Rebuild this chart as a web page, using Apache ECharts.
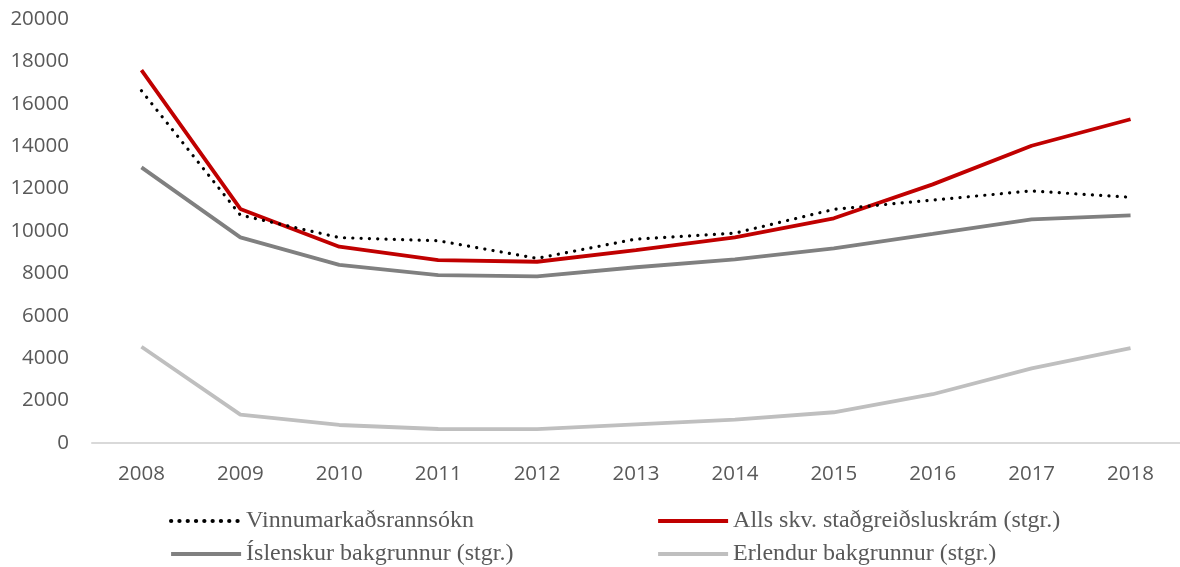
<!DOCTYPE html>
<html>
<head>
<meta charset="utf-8">
<script src="https://cdn.jsdelivr.net/npm/echarts@6/dist/echarts.min.js"></script>
<style>
  html, body { margin: 0; padding: 0; background: #fff; }
  #chart { width: 1180px; height: 567px; }
</style>
</head>
<body>
<div id="chart"></div>
<script>
const years = ["2008", "2009", "2010", "2011", "2012", "2013", "2014", "2015", "2016", "2017", "2018"];
const vinnumarkadur = [16620, 10750, 9690, 9540, 8710, 9620, 9900, 11020, 11460, 11890, 11590];
const alls = [17590, 11040, 9260, 8630, 8550, 9100, 9700, 10600, 12200, 14020, 15270];
const islenskur = [13000, 9700, 8400, 7920, 7860, 8290, 8660, 9180, 9860, 10550, 10740];
const erlendur = [4540, 1340, 850, 660, 650, 880, 1100, 1450, 2300, 3520, 4470];
const yTicks = { min: 0, max: 20000, interval: 2000 };

const chart = echarts.init(document.getElementById("chart"));

const legendText = {
  fontFamily: "Liberation Serif",
  fontSize: 24,
  color: "#595959",
};

function legendAt(name, left, top) {
  return {
    data: [name],
    left: left,
    top: top,
    itemWidth: 70,
    itemHeight: 14,
    itemGap: 0,
    padding: 0,
    itemStyle: { opacity: 0 },
    lineStyle: { width: 4.2 },
    textStyle: legendText,
    selectedMode: false,
  };
}

function lineSeries(name, data, color, extra) {
  return Object.assign({
    name: name,
    type: "line",
    data: data,
    showSymbol: false,
    symbol: "none",
    animation: false,
    lineStyle: { color: color, width: 3.8 },
    itemStyle: { color: color },
  }, extra || {});
}

const axisFont = {
  color: "#595959",
  fontFamily: "Open Sans",
  fontSize: 20.5,
};

chart.setOption({
  backgroundColor: "#fff",
  grid: {
    left: 92,
    top: 19,
    width: 1099,
    height: 424,
  },
  legend: [
    legendAt("Vinnumarkaðsrannsókn", 169, 509),
    legendAt("Alls skv. staðgreiðsluskrám (stgr.)", 656, 509),
    legendAt("Íslenskur bakgrunnur (stgr.)", 169, 542),
    legendAt("Erlendur bakgrunnur (stgr.)", 656, 542),
  ],
  xAxis: {
    type: "category",
    data: years,
    boundaryGap: true,
    axisLine: { lineStyle: { color: "#d9d9d9", width: 2 } },
    axisTick: { show: false },
    axisLabel: Object.assign({ margin: 21 }, axisFont),
  },
  yAxis: {
    type: "value",
    min: yTicks.min,
    max: yTicks.max,
    interval: yTicks.interval,
    splitLine: { show: false },
    axisLine: { show: false },
    axisTick: { show: false },
    axisLabel: Object.assign({
      margin: 23,
      formatter: (v) => String(v),
    }, axisFont),
  },
  series: [
    lineSeries("Vinnumarkaðsrannsókn", vinnumarkadur, "#000000", {
      lineStyle: { color: "#000000", width: 3.2, type: [0.1, 8.2], cap: "round" },
      z: 5,
    }),
    lineSeries("Alls skv. staðgreiðsluskrám (stgr.)", alls, "#c00000"),
    lineSeries("Íslenskur bakgrunnur (stgr.)", islenskur, "#808080"),
    lineSeries("Erlendur bakgrunnur (stgr.)", erlendur, "#bfbfbf"),
  ],
});

window.addEventListener("resize", () => {
  chart.resize();
});
</script>
</body>
</html>
